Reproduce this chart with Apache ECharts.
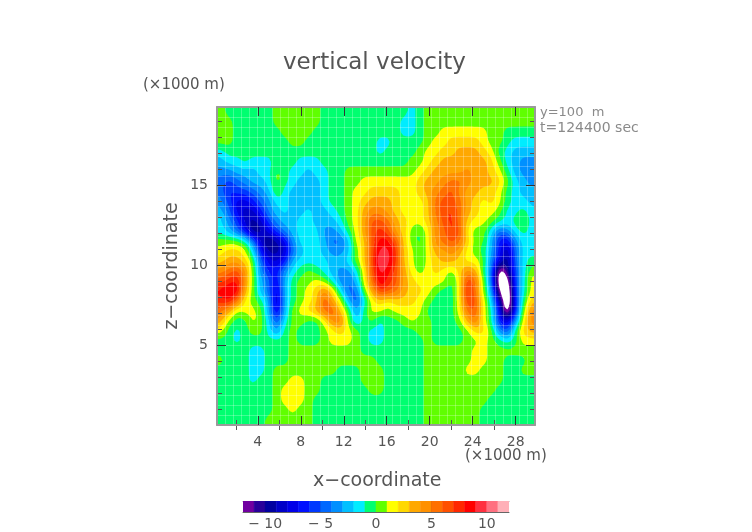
<!DOCTYPE html>
<html>
<head>
<meta charset="utf-8">
<script src="https://cdn.jsdelivr.net/npm/echarts@6/dist/echarts.min.js"></script>
<style>
html, body { margin: 0; background: #fff; }
#chart { width: 752px; height: 532px; }
</style>
</head>
<body>
<div id="chart"></div>
<script>
// vertical velocity, one row per z step, top row first
const velocity = [
[.5,-.5,-.5,-.5,-.5,-.5,-.5,.5,.5,.5, .5,.5,.5,-.5,-.5,-.5,-.5,-.5,-.5,-.5, -.5,-.5,-.5,-.5,-1.5,-.5,.5,.5,.5,.5, .5,.5,.5,.5,.5,.5,.5,.5,.5,.5],
[.5,.5,-.5,-.5,-.5,-.5,-.5,.5,.5,.5, .5,.5,.5,-.5,-.5,-.5,-.5,-.5,-.5,-.5, -.5,-.5,-.5,-1.5,-1.5,-.5,.5,.5,.5,.5, .5,.5,.5,.5,.5,.5,.5,.5,.5,.5],
[.5,.5,-.5,-.5,-.5,-.5,-.5,-.5,.5,.5, .5,.5,-.5,-.5,-1.5,-.5,-.5,-.5,-.5,-.5, -.5,-.5,-.5,-1.5,-1.5,-.5,.5,.5,1.5,1.5, 1.5,1.5,1.5,1.5,.5,.5,-.5,-.5,-.5,-.5],
[.5,.5,-.5,-.5,-.5,-.5,-.5,-.5,-.5,.5, .5,-.5,-.5,-.5,-.5,-.5,-.5,-.5,-.5,-.5, -1.5,-1.5,-.5,-.5,-.5,-.5,.5,1.5,1.5,2.5, 2.5,2.5,2.5,1.5,.5,.5,-.5,-1.5,-1.5,-1.5],
[-1.5,-.5,-.5,-.5,-.5,-.5,-.5,-.5,-.5,-.5, -.5,-.5,-.5,-.5,-.5,-.5,-.5,-.5,-.5,-.5, -1.5,-.5,-.5,-.5,-.5,.5,1.5,1.5,2.5,2.5, 3.5,3.5,3.5,2.5,1.5,-.5,-1.5,-2.5,-2.5,-2.5],
[-2.5,-1.5,-1.5,-.5,-1.5,-1.5,-1.5,-.5,-.5,-.5, -1.5,-1.5,-1.5,-.5,-.5,-.5,-.5,-.5,-.5,-.5, -.5,-.5,-.5,-.5,.5,.5,1.5,2.5,3.5,3.5, 3.5,3.5,3.5,3.5,2.5,.5,-1.5,-2.5,-3.5,-3.5],
[-3.5,-3.5,-2.5,-2.5,-2.5,-1.5,-1.5,.5,-.5,-1.5, -1.5,-2.5,-1.5,-1.5,-.5,-.5,.5,.5,.5,.5, .5,.5,.5,.5,.5,1.5,2.5,3.5,3.5,3.5, 3.5,4.5,3.5,3.5,2.5,1.5,-.5,-2.5,-3.5,-3.5],
[-4.5,-5.5,-4.5,-3.5,-2.5,-2.5,-1.5,.5,-.5,-1.5, -2.5,-2.5,-2.5,-1.5,-.5,-.5,.5,.5,1.5,1.5, 1.5,1.5,1.5,1.5,1.5,2.5,3.5,3.5,4.5,5.5, 5.5,4.5,3.5,3.5,3.5,2.5,.5,-1.5,-2.5,-3.5],
[-4.5,-6.5,-5.5,-5.5,-4.5,-3.5,-2.5,.5,-1.5,-2.5, -2.5,-2.5,-2.5,-1.5,-.5,-.5,.5,1.5,1.5,2.5, 2.5,2.5,2.5,1.5,1.5,2.5,3.5,4.5,5.5,6.5, 4.5,3.5,3.5,2.5,2.5,1.5,-.5,-1.5,-2.5,-2.5],
[-3.5,-5.5,-7.5,-7.5,-6.5,-4.5,-3.5,-1.5,-1.5,-2.5, -2.5,-2.5,-2.5,-1.5,-.5,-.5,.5,1.5,2.5,3.5, 3.5,3.5,2.5,1.5,1.5,1.5,2.5,5.5,6.5,6.5, 5.5,3.5,2.5,1.5,2.5,1.5,-.5,-1.5,-1.5,-2.5],
[-2.5,-4.5,-7.5,-8.5,-8.5,-6.5,-3.5,-2.5,-1.5,-2.5, -2.5,-1.5,-2.5,-2.5,-1.5,-.5,.5,1.5,3.5,4.5, 4.5,3.5,2.5,1.5,1.5,1.5,2.5,5.5,6.5,7.5, 5.5,3.5,2.5,1.5,1.5,.5,-1.5,-1.5,-.5,-1.5],
[-1.5,-3.5,-5.5,-8.5,-9.5,-8.5,-5.5,-3.5,-2.5,-2.5, -1.5,-1.5,-2.5,-2.5,-2.5,-1.5,.5,1.5,3.5,6.5, 6.5,5.5,3.5,2.5,1.5,1.5,2.5,4.5,6.5,7.5, 5.5,2.5,1.5,1.5,.5,-.5,-1.5,-.5,.5,-1.5],
[-1.5,-2.5,-4.5,-6.5,-10.5,-9.5,-7.5,-5.5,-3.5,-2.5, -1.5,-1.5,-1.5,-3.5,-3.5,-2.5,-.5,1.5,3.5,6.5, 7.5,6.5,3.5,2.5,.5,-.5,1.5,4.5,5.5,7.5, 6.5,1.5,.5,.5,-1.5,-4.5,-3.5,-1.5,-.5,-1.5],
[.5,.5,.5,-.5,-3.5,-8.5,-10.5,-9.5,-7.5,-3.5, -1.5,-1.5,-1.5,-2.5,-4.5,-4.5,-2.5,1.5,2.5,6.5, 8.5,8.5,6.5,2.5,.5,-.5,1.5,4.5,5.5,6.5, 5.5,2.5,.5,.5,-2.5,-6.5,-7.5,-3.5,-1.5,-1.5],
[1.5,2.5,2.5,1.5,-1.5,-6.5,-9.5,-9.5,-8.5,-4.5, -2.5,-1.5,-1.5,-2.5,-3.5,-3.5,-2.5,.5,2.5,6.5, 9.5,9.5,7.5,2.5,1.5,-.5,1.5,3.5,3.5,4.5, 3.5,1.5,.5,-.5,-2.5,-6.5,-9.5,-4.5,-1.5,-1.5],
[2.5,3.5,3.5,2.5,.5,-4.5,-7.5,-8.5,-6.5,-2.5, -1.5,-1.5,-1.5,-1.5,-2.5,-2.5,-1.5,.5,2.5,6.5, 11,9.5,7.5,2.5,1.5,-.5,1.5,2.5,3.5,3.5, 2.5,1.5,1.5,.5,-3.5,-7.5,-10.5,-4.5,-1.5,-.5],
[4.5,5.5,6.5,4.5,.5,-3.5,-6.5,-6.5,-3.5,-1.5, -.5,.5,-.5,-1.5,-2.5,-3.5,-3.5,-1.5,1.5,6.5, 9.5,8.5,6.5,3.5,1.5,.5,1.5,2.5,1.5,.5, 2.5,4.5,3.5,-.5,-3.5,-14,-10.5,-5.5,-1.5,.5],
[6.5,7.5,8.5,4.5,.5,-2.5,-4.5,-7.5,-2.5,-.5, .5,.5,1.5,.5,-1.5,-3.5,-4.5,-2.5,1.5,5.5, 9.5,7.5,6.5,3.5,2.5,1.5,1.5,1.5,1.5,-.5, 1.5,7.5,5.5,.5,-3.5,-15,-14,-5.5,-1.5,1.5],
[8.5,9.5,9.5,3.5,.5,-2.5,-4.5,-8.5,-2.5,-.5, .5,1.5,2.5,4.5,2.5,-1.5,-4.5,-4.5,.5,3.5, 7.5,6.5,5.5,3.5,2.5,2.5,1.5,.5,-.5,-.5, 1.5,8.5,5.5,.5,-2.5,-12.5,-16,-5.5,-1.5,1.5],
[7.5,8.5,5.5,1.5,.5,-.5,-2.5,-9.5,-2.5,-.5, .5,1.5,2.5,6.5,3.5,1.5,-2.5,-5.5,-1.5,1.5, 2.5,1.5,2.5,2.5,2.5,1.5,.5,-.5,-1.5,-.5, 1.5,7.5,6.5,1.5,-1.5,-8.5,-16,-6.5,-.5,2.5],
[5.5,3.5,.5,1.5,1.5,.5,-2.5,-8.5,-2.5,.5, 1.5,2.5,3.5,5.5,6.5,2.5,.5,-3.5,-.5,1.5, 1.5,.5,1.5,1.5,1.5,1.5,-.5,-.5,-.5,-.5, 1.5,5.5,6.5,1.5,-.5,-6.5,-15,-6.5,.5,4.5],
[3.5,.5,-.5,-.5,1.5,.5,-1.5,-5.5,-1.5,.5, .5,-.5,-.5,1.5,4.5,5.5,.5,-2.5,-.5,.5, -1.5,-.5,-.5,.5,1.5,.5,.5,-.5,-.5,-.5, .5,3.5,5.5,1.5,-.5,-6.5,-8.5,-3.5,1.5,4.5],
[1.5,-.5,-1.5,-.5,.5,.5,-1.5,-3.5,-.5,.5, -.5,-.5,-.5,.5,1.5,2.5,1.5,.5,-.5,-1.5, -1.5,-.5,-.5,-.5,-.5,.5,.5,-.5,-.5,-.5, -.5,.5,2.5,2.5,.5,-3.5,-5.5,-.5,2.5,3.5],
[-.5,-.5,-1.5,-.5,-.5,-.5,-.5,-.5,-.5,.5, -.5,-.5,-.5,.5,1.5,1.5,1.5,.5,-.5,-1.5, -1.5,-.5,-.5,-.5,-.5,-.5,.5,-.5,-.5,-.5, -.5,.5,.5,1.5,.5,-.5,-1.5,-.5,1.5,1.5],
[-.5,-.5,-.5,-.5,-1.5,-1.5,-.5,-.5,-.5,.5, .5,.5,.5,.5,.5,.5,.5,.5,-.5,-.5, -.5,-.5,-.5,-.5,-.5,-.5,.5,.5,.5,.5, .5,.5,1.5,1.5,.5,.5,.5,.5,.5,.5],
[.5,-.5,-.5,-.5,-1.5,-1.5,-.5,-.5,-.5,.5, .5,.5,.5,.5,.5,.5,.5,.5,.5,.5, -.5,-.5,-.5,-.5,-.5,-.5,.5,.5,.5,.5, .5,.5,1.5,1.5,.5,.5,-.5,-.5,-.5,.5],
[-.5,-.5,-.5,-.5,-1.5,-1.5,-.5,.5,.5,.5, .5,.5,.5,.5,.5,-.5,-.5,-.5,.5,.5, .5,-.5,-.5,-.5,-.5,-.5,.5,.5,.5,.5, .5,1.5,1.5,.5,.5,.5,-.5,-.5,.5,.5],
[-.5,-.5,-.5,-.5,-1.5,-.5,-.5,.5,.5,1.5, 1.5,.5,.5,-.5,-.5,-.5,-.5,-.5,.5,.5, .5,-.5,-.5,-.5,-.5,-.5,.5,.5,.5,.5, .5,.5,.5,.5,.5,.5,-.5,-.5,-.5,-.5],
[-.5,-.5,-.5,-.5,-.5,-.5,-.5,.5,1.5,1.5, 1.5,.5,.5,-.5,-.5,-.5,-.5,-.5,-.5,.5, .5,-.5,-.5,-.5,-.5,-.5,.5,.5,.5,.5, .5,.5,.5,.5,.5,-.5,-.5,-.5,-.5,-.5],
[-.5,-.5,-.5,-.5,-.5,-.5,-.5,.5,1.5,1.5, 1.5,.5,-.5,-.5,-.5,-.5,-.5,-.5,-.5,-.5, -.5,-.5,-.5,-.5,-.5,-.5,.5,.5,.5,.5, .5,.5,.5,.5,-.5,-.5,-.5,-.5,-.5,-.5],
[-.5,-.5,-.5,-.5,-.5,-.5,-.5,.5,.5,1.5, .5,.5,-.5,-.5,-.5,-.5,-.5,-.5,-.5,-.5, -.5,-.5,-.5,-.5,-.5,-.5,.5,.5,.5,.5, .5,.5,.5,-.5,-.5,-.5,-.5,-.5,-.5,-.5],
[-.5,-.5,-.5,-.5,-.5,-.5,.5,.5,.5,.5, .5,.5,-.5,-.5,-.5,-.5,-.5,-.5,-.5,-.5, -.5,-.5,-.5,-.5,-.5,-.5,.5,.5,.5,.5, .5,.5,.5,-.5,-.5,-.5,-.5,-.5,-.5,-.5]
];

const xTicks = [4, 8, 12, 16, 20, 24, 28];
const xMinorTicks = [2, 6, 10, 14, 18, 22, 26];
const zTicks = [5, 10, 15];
const zMinorTicks = [1, 2, 3, 4, 6, 7, 8, 9, 11, 12, 13, 14, 16, 17, 18, 19];
const colorbarTicks = [-10, -5, 0, 5, 10];
const bandEdges = [-12, -11, -10, -9, -8, -7, -6, -5, -4, -3, -2, -1, 0, 1, 2, 3, 4, 5, 6, 7, 8, 9, 10, 11, 12];
const bandColors = ['#7000a0', '#28009a', '#0000a0', '#0000c8', '#0000e8', '#0010ff', '#0038ff', '#0068ff',
  '#0090ff', '#00c0ff', '#00ecff', '#00ff70', '#60ff00', '#ffff00', '#ffd800', '#ffa800',
  '#ff9000', '#ff7000', '#ff5000', '#ff2800', '#ff0000', '#ff3040', '#ff7080', '#ffb0b8'];

const xMin = 0.2, xMax = 29.8, zMin = 0, zMax = 19.9;
const cols = velocity[0].length, rows = velocity.length;
const dx = (xMax - xMin) / cols;
const dz = (zMax - zMin) / rows;
const xEdges = velocity[0].map((v, c) => xMin + c * dx).slice(1);
const zEdges = velocity.map((v, r) => zMin + r * dz).slice(1);

// contour geometry: the read values sit at cell centres, edge cells repeat out to the frame
const refine = 3, smoothPasses = 3;
const nodeX = [xMin, ...velocity[0].map((v, c) => xMin + (c + 0.5) * dx), xMax];
const nodeZ = [zMax, ...velocity.map((v, r) => zMax - (r + 0.5) * dz), zMin];
const valueAt = (r, c) => velocity[Math.max(0, Math.min(rows - 1, r - 1))][Math.max(0, Math.min(cols - 1, c - 1))];

const fineX = [], fineZ = [];
for (let c = 0; c < nodeX.length - 1; c++) for (let k = 0; k < refine; k++) fineX.push(nodeX[c] + (nodeX[c + 1] - nodeX[c]) * k / refine);
fineX.push(xMax);
for (let r = 0; r < nodeZ.length - 1; r++) for (let k = 0; k < refine; k++) fineZ.push(nodeZ[r] + (nodeZ[r + 1] - nodeZ[r]) * k / refine);
fineZ.push(zMin);

let field = fineZ.map((z, j) => fineX.map((x, i) => {
  const r = Math.min(Math.floor(j / refine), nodeZ.length - 2), c = Math.min(Math.floor(i / refine), nodeX.length - 2);
  const a = (i - c * refine) / refine, b = (j - r * refine) / refine;
  return (valueAt(r, c) * (1 - a) + valueAt(r, c + 1) * a) * (1 - b) + (valueAt(r + 1, c) * (1 - a) + valueAt(r + 1, c + 1) * a) * b;
}));
for (let p = 0; p < smoothPasses; p++) {
  field = field.map(row => row.map((v, i) => (2 * v + row[Math.max(i - 1, 0)] + row[Math.min(i + 1, row.length - 1)]) / 4));
  field = field.map((row, j) => row.map((v, i) => (2 * v + field[Math.max(j - 1, 0)][i] + field[Math.min(j + 1, field.length - 1)][i]) / 4));
}

// part of one triangle where the field is at or above level
const clipAbove = (tri, level) => {
  const out = [];
  tri.forEach((p, i) => {
    const q = tri[(i + 1) % tri.length];
    if (p[2] >= level) out.push(p);
    if ((p[2] >= level) !== (q[2] >= level)) {
      const t = (level - p[2]) / (q[2] - p[2]);
      out.push([p[0] + (q[0] - p[0]) * t, p[1] + (q[1] - p[1]) * t, level]);
    }
  });
  return out;
};
// band regions overlap under the next band up, so no seams show between colours
const regionOf = (level, nextLevel) => {
  const polys = [];
  for (let j = 0; j < fineZ.length - 1; j++) {
    for (let i = 0; i < fineX.length - 1; i++) {
      const a = [fineX[i], fineZ[j], field[j][i]], b = [fineX[i + 1], fineZ[j], field[j][i + 1]];
      const c = [fineX[i + 1], fineZ[j + 1], field[j + 1][i + 1]], d = [fineX[i], fineZ[j + 1], field[j + 1][i]];
      [[a, b, c], [a, c, d]].forEach(tri => {
        if (Math.min(tri[0][2], tri[1][2], tri[2][2]) >= nextLevel) return;
        const part = clipAbove(tri, level);
        if (part.length > 2) polys.push(part);
      });
    }
  }
  return polys;
};
const regions = bandColors.map((c, i) => regionOf(bandEdges[i], bandEdges[i + 1]));

echarts.graphic.registerShape('contourRegion', echarts.graphic.extendShape({
  shape: { polys: [] },
  buildPath(ctx, shape) {
    shape.polys.forEach(poly => {
      poly.forEach((p, i) => (i ? ctx.lineTo(p[0], p[1]) : ctx.moveTo(p[0], p[1])));
      ctx.closePath();
    });
  }
}));

const contourData = bandColors.map((c, i) => [(xMin + xMax) / 2, (zMin + zMax) / 2, i]);
const colorbarCells = bandColors.map((c, i) => [(bandEdges[i] + bandEdges[i + 1]) / 2, 0.5, i]);

const fontFamily = 'DejaVu Sans';
const textColor = '#555';
const frameColor = '#9a9a9a';
const plot = { left: 217, top: 107, width: 318, height: 318 };

const renderContour = (params, api) => {
  const i = api.value(2);
  return {
    type: 'contourRegion',
    shape: { polys: regions[i].map(poly => poly.map(p => api.coord([p[0], p[1]]))) },
    style: { fill: bandColors[i] }
  };
};
const renderColorbar = (params, api) => {
  const p = api.coord([api.value(0) - 0.5, 1]);
  const size = api.size([1, 1]);
  const fill = bandColors[api.value(2)];
  return {
    type: 'rect',
    shape: { x: p[0], y: p[1], width: size[0], height: size[1] },
    style: { fill, stroke: fill, lineWidth: 0.5 }
  };
};

const label = (text, left, top, fontSize, color) => ({
  text, left, top, padding: 0,
  textStyle: { fontFamily, fontSize, fontWeight: 'normal', color: color || textColor }
});

const majorX = (position, show) => ({
  type: 'value', gridIndex: 0, position, min: xMin, max: xMax, z: 10,
  axisLine: { onZero: false, lineStyle: { color: frameColor, width: 2 } },
  axisTick: { inside: true, length: 9, customValues: xTicks, lineStyle: { color: '#333' } },
  axisLabel: { show, customValues: xTicks, margin: 10, fontFamily, fontSize: 14, color: textColor },
  splitLine: { show: false }
});
const majorZ = (position, show) => ({
  type: 'value', gridIndex: 0, position, min: zMin, max: zMax, z: 10,
  axisLine: { onZero: false, lineStyle: { color: frameColor, width: 2 } },
  axisTick: { inside: true, length: 9, customValues: zTicks, lineStyle: { color: '#333' } },
  axisLabel: { show, customValues: zTicks, margin: 9, fontFamily, fontSize: 14, color: textColor },
  splitLine: { show: false }
});
const minorAxis = (gridIndex, position, min, max, values, length) => ({
  type: 'value', gridIndex, position, min, max, z: 9,
  axisLine: { show: false },
  axisTick: { inside: true, length, customValues: values, lineStyle: { color: '#555' } },
  axisLabel: { show: false },
  splitLine: { show: false }
});
const meshAxis = (gridIndex, position, min, max, values) => ({
  type: 'value', gridIndex, position, min, max, z: 8,
  axisLine: { show: false },
  axisTick: { show: false, customValues: values },
  axisLabel: { show: false },
  splitLine: { show: true, lineStyle: { color: 'rgba(255,255,255,0.25)', width: 1 } }
});

const chart = echarts.init(document.getElementById('chart'), null, { renderer: 'canvas' });
chart.setOption({
  backgroundColor: '#fff',
  animation: false,
  title: [
    label('vertical velocity', 283, 52, 23),
    label('(×1000 m)', 143, 78, 15),
    label('(×1000 m)', 465, 449, 15),
    label('x−coordinate', 313, 472, 19),
    label('y=100  m', 540, 106, 13, '#8a8a8a'),
    label('t=124400 sec', 540, 121, 14, '#8a8a8a')
  ],
  grid: [
    plot, plot, plot, plot,
    { left: 243, top: 501, width: 266, height: 11 }
  ],
  xAxis: [
    majorX('bottom', true),
    majorX('top', false),
    minorAxis(1, 'bottom', xMin, xMax, xMinorTicks, 5),
    minorAxis(2, 'top', xMin, xMax, xMinorTicks, 5),
    meshAxis(3, 'bottom', xMin, xMax, xEdges),
    {
      type: 'value', gridIndex: 4, min: -12, max: 12, position: 'bottom',
      axisLine: { onZero: false, lineStyle: { color: '#666' } },
      axisTick: { inside: true, length: 11, customValues: colorbarTicks, lineStyle: { color: '#333' } },
      axisLabel: {
        customValues: colorbarTicks, margin: 5, fontFamily, fontSize: 14, color: textColor,
        formatter: v => String(v).replace('-', '− ')
      },
      splitLine: { show: false }
    },
    {
      type: 'value', gridIndex: 4, min: -12, max: 12, position: 'top',
      axisLine: { onZero: false, lineStyle: { color: frameColor } },
      axisTick: { show: false }, axisLabel: { show: false }, splitLine: { show: false }
    }
  ],
  yAxis: [
    Object.assign(majorZ('left', true), {
      name: 'z−coordinate', nameLocation: 'middle', nameGap: 35, nameRotate: 90,
      nameTextStyle: { fontFamily, fontSize: 19, color: textColor }
    }),
    majorZ('right', false),
    minorAxis(1, 'left', zMin, zMax, zMinorTicks, 5),
    minorAxis(2, 'right', zMin, zMax, zMinorTicks, 5),
    meshAxis(3, 'left', zMin, zMax, zEdges),
    { type: 'value', gridIndex: 4, min: 0, max: 1, show: false }
  ],
  series: [
    {
      type: 'custom', coordinateSystem: 'cartesian2d', xAxisIndex: 0, yAxisIndex: 0,
      data: contourData, encode: { x: 0, y: 1 }, silent: true,
      renderItem: renderContour
    },
    {
      type: 'custom', coordinateSystem: 'cartesian2d', xAxisIndex: 5, yAxisIndex: 5,
      data: colorbarCells, encode: { x: 0, y: 1 }, clip: true, silent: true,
      renderItem: renderColorbar
    }
  ]
});
</script>
</body>
</html>
